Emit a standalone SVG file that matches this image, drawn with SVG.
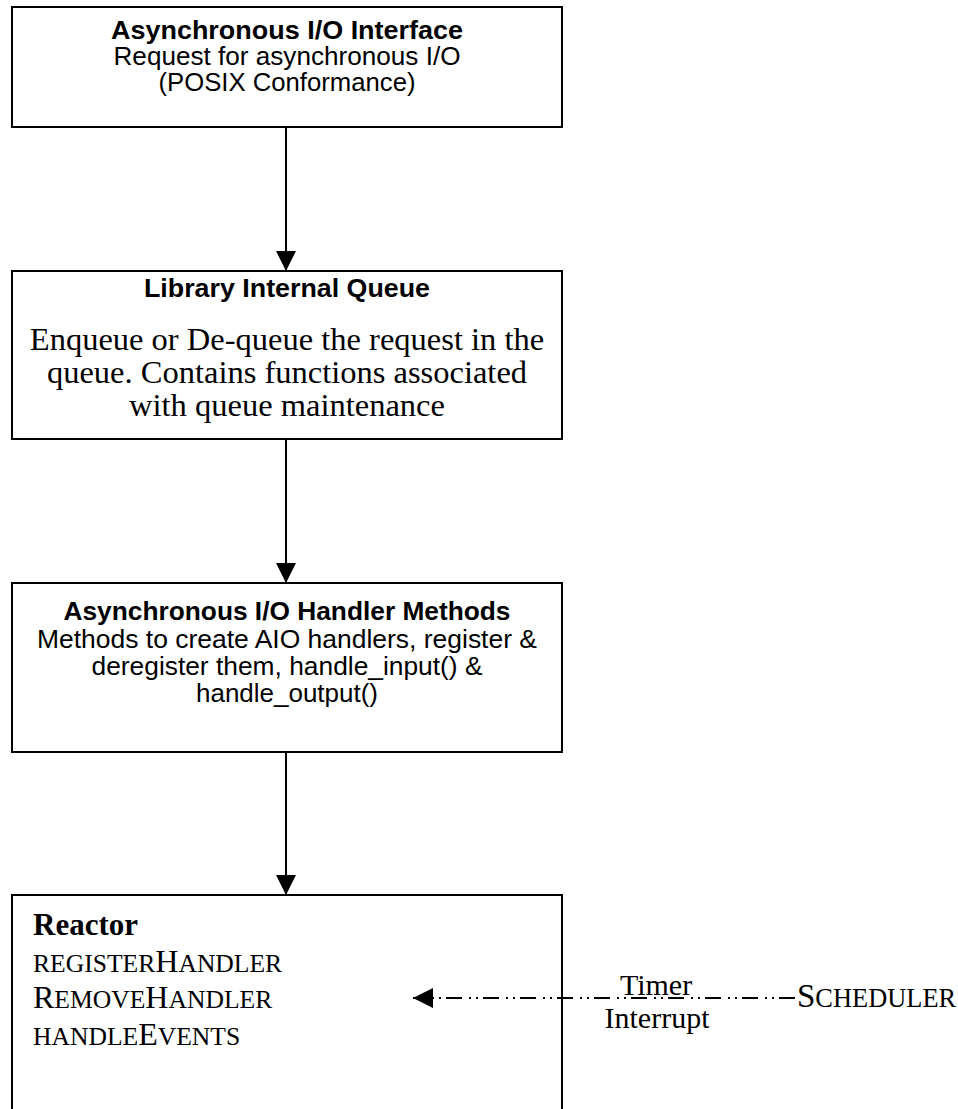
<svg xmlns="http://www.w3.org/2000/svg" width="958" height="1109" viewBox="0 0 958 1109">
<style>
.box{fill:#fff;stroke:#000;stroke-width:2}
.sans{font-family:"Liberation Sans",Arial,sans-serif;font-size:25px;fill:#000}
.b{font-weight:bold}
.serif{font-family:"Liberation Serif","Times New Roman",serif;fill:#000}
.edge{stroke:#000;stroke-width:2;fill:none}
.sc{font-size:25.6px}
.cap{font-size:32px}
</style>
<defs>
<marker id="ah" markerWidth="20" markerHeight="20" viewBox="0 0 20 20" refX="20" refY="10" orient="auto" markerUnits="userSpaceOnUse">
<path d="M0,0 L20,10 L0,20 Z" fill="#000"/>
</marker>
</defs>
<rect width="958" height="1109" fill="#fff"/>
<g id="aio-interface">
<rect class="box" x="12" y="7" width="550" height="120"/>
<text class="sans b" x="287" y="39" text-anchor="middle" textLength="352" lengthAdjust="spacingAndGlyphs">Asynchronous I/O Interface</text>
<text class="sans" x="287" y="65" text-anchor="middle" textLength="347" lengthAdjust="spacingAndGlyphs">Request for asynchronous I/O</text>
<text class="sans" x="287" y="91" text-anchor="middle" textLength="257" lengthAdjust="spacingAndGlyphs">(POSIX Conformance)</text>
</g>
<g id="library-queue">
<rect class="box" x="12" y="271" width="550" height="168"/>
<text class="sans b" x="287" y="297" text-anchor="middle" textLength="286" lengthAdjust="spacingAndGlyphs">Library Internal Queue</text>
<text class="serif" x="287" y="350" text-anchor="middle" font-size="32.5">Enqueue or De-queue the request in the</text>
<text class="serif" x="287" y="383" text-anchor="middle" font-size="32.5">queue. Contains functions associated</text>
<text class="serif" x="287" y="416" text-anchor="middle" font-size="32.5">with queue maintenance</text>
</g>
<g id="aio-handler">
<rect class="box" x="12" y="583" width="550" height="169"/>
<text class="sans b" x="287" y="620" text-anchor="middle" textLength="447" lengthAdjust="spacingAndGlyphs">Asynchronous I/O Handler Methods</text>
<text class="sans" x="287" y="648" text-anchor="middle" textLength="500" lengthAdjust="spacingAndGlyphs">Methods to create AIO handlers, register &amp;</text>
<text class="sans" x="287" y="675" text-anchor="middle" textLength="391" lengthAdjust="spacingAndGlyphs">deregister them, handle_input() &amp;</text>
<text class="sans" x="287" y="702" text-anchor="middle" textLength="182" lengthAdjust="spacingAndGlyphs">handle_output()</text>
</g>
<g id="reactor">
<rect class="box" x="12" y="895" width="550" height="240"/>
<text class="serif b" x="33" y="935" font-size="31">Reactor</text>
<text class="serif" x="33" y="972"><tspan class="sc">REGISTER</tspan><tspan class="cap">H</tspan><tspan class="sc">ANDLER</tspan></text>
<text class="serif" x="33" y="1008"><tspan class="cap">R</tspan><tspan class="sc">EMOVE</tspan><tspan class="cap">H</tspan><tspan class="sc">ANDLER</tspan></text>
<text class="serif" x="33" y="1045"><tspan class="sc">HANDLE</tspan><tspan class="cap">E</tspan><tspan class="sc">VENTS</tspan></text>
</g>
<g id="scheduler">
<text class="serif" x="797" y="1007"><tspan font-size="33">S</tspan><tspan font-size="26.4">CHEDULER</tspan></text>
</g>
<g id="connectors">
<line class="edge" x1="286" y1="127" x2="286" y2="271" marker-end="url(#ah)"/>
<line class="edge" x1="286" y1="439" x2="286" y2="583" marker-end="url(#ah)"/>
<line class="edge" x1="286" y1="752" x2="286" y2="895" marker-end="url(#ah)"/>
<line class="edge" x1="795" y1="998" x2="413" y2="998" stroke-dasharray="16 5 2 5 2 7" marker-end="url(#ah)"/>
<text class="serif" x="656" y="995" text-anchor="middle" font-size="30">Timer</text>
<text class="serif" x="657" y="1028" text-anchor="middle" font-size="30">Interrupt</text>
</g>
</svg>
